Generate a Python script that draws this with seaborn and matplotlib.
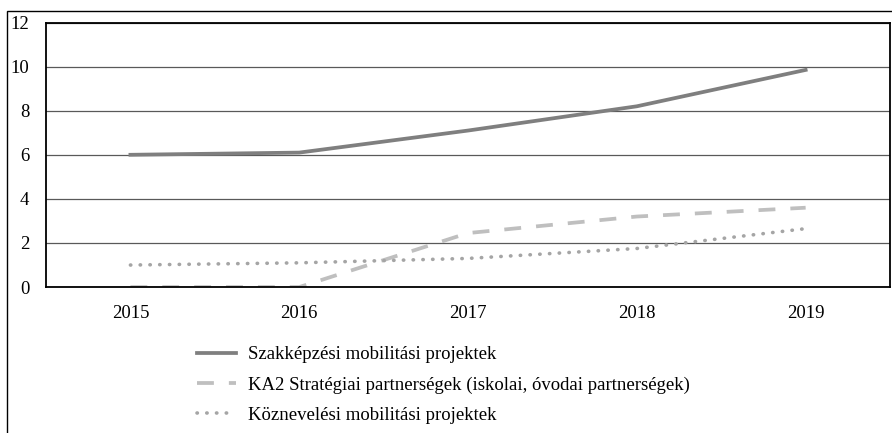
import numpy as np
import matplotlib.pyplot as plt
import matplotlib.patches as patches
import pandas as pd
import seaborn as sns


plt.rcParams['font.family'] = ['Liberation Serif', 'DejaVu Serif']

#dados do grafico
ano = [2015, 2016, 2017, 2018, 2019]
szak = [6.0, 6.1, 7.1, 8.2, 9.85]
ka2 = [0.0, 0.0, 2.45, 3.2, 3.6]
koz = [1.0, 1.1, 1.3, 1.75, 2.65]

dataf = pd.DataFrame({'ano': ano, 'szak': szak, 'ka2': ka2, 'koz': koz})


## GRAFICO
fig, ax1 = plt.subplots(figsize=(8.92, 4.33), dpi=100)
fig.subplots_adjust(left=0.0516, right=0.9978, bottom=0.337, top=0.948)

sns.lineplot(x='ano', y='szak', data=dataf, ax=ax1, label='Szakképzési mobilitási projektek',
             color='#7f7f7f', linewidth=2.7)
sns.lineplot(x='ano', y='ka2', data=dataf, ax=ax1, label='KA2 Stratégiai partnerségek (iskolai, óvodai partnerségek)',
             color='#bfbfbf', linewidth=2.7, linestyle=(0, (4.5, 4)))
sns.lineplot(x='ano', y='koz', data=dataf, ax=ax1, label='Köznevelési mobilitási projektek',
             color='#a5a5a5', linewidth=2.6, linestyle=(0, (0.1, 2.6)), dash_capstyle='round')

ax1.set_xlim(2014.5, 2019.5)
ax1.set_ylim(0, 12)
ax1.set_yticks(np.arange(0, 13, 2))
ax1.set_xticks(ano)
ax1.set_xlabel('')
ax1.set_ylabel('')
ax1.tick_params(axis='both', length=0, labelsize=13.5)
ax1.tick_params(axis='y', pad=12)
ax1.tick_params(axis='x', pad=13)
ax1.grid(axis='y', color='#595959', linewidth=0.9)
ax1.set_axisbelow(True)
for s in ax1.spines.values():
    s.set_linewidth(1.3)
    s.set_color('black')

#legenda embaixo
ax1.get_legend().remove()
handles, labels = ax1.get_legend_handles_labels()
fig.legend(handles, labels, loc='upper left', bbox_to_anchor=(0.212, 0.218), frameon=False,
           fontsize=13.5, handlelength=2.1, handletextpad=0.65, labelspacing=0.7, borderaxespad=0)

#moldura externa
fig.patches.append(patches.Rectangle((7 / 892, -0.1), 1.2, 1.1 - 11 / 433, transform=fig.transFigure,
                                     fill=False, edgecolor='black', linewidth=1.0, figure=fig))

plt.savefig("out.png", dpi=100)
